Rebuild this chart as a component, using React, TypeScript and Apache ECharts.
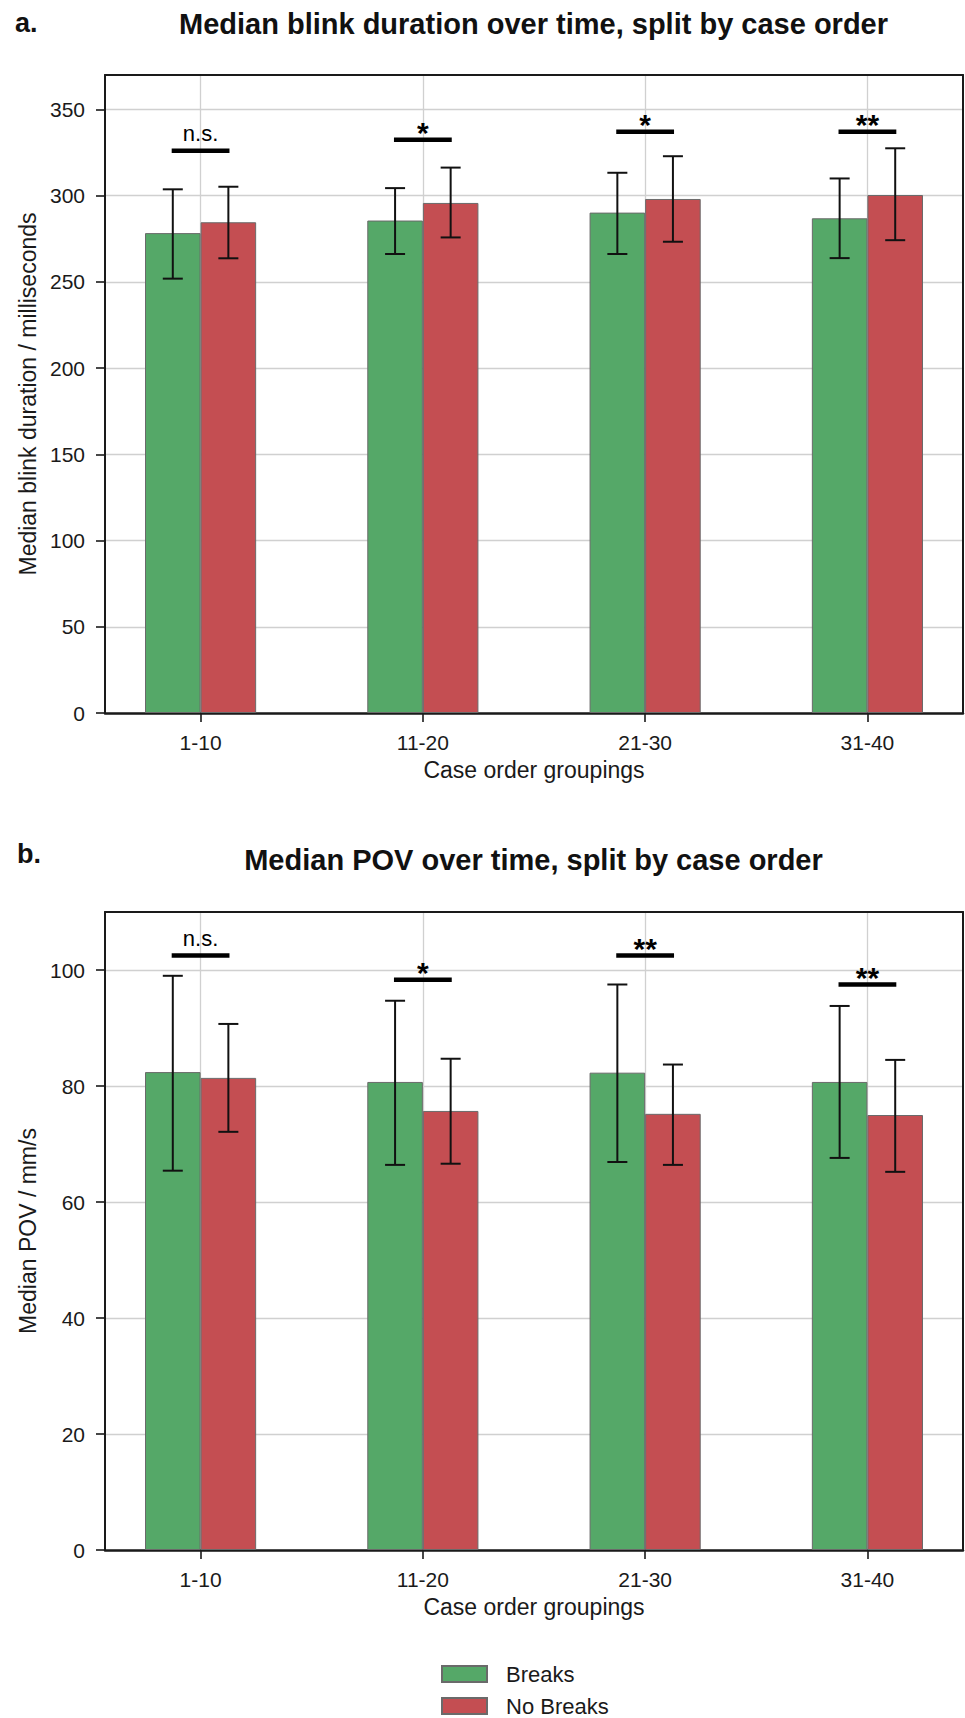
import React, { useEffect, useRef } from 'react';
import * as echarts from 'echarts';

// ---------- data ----------
const categories = ['1-10', '11-20', '21-30', '31-40'];
const seriesNames = ['Breaks', 'No Breaks'];

// Panel a: median blink duration (ms)
const blinkBreaks = [278.3, 285.6, 290.2, 286.9];
const blinkNoBreaks = [284.6, 295.8, 298.1, 300.4];
const blinkBreaksLow = [251.9, 266.2, 266.2, 263.8];
const blinkBreaksHigh = [303.7, 304.4, 313.3, 310.0];
const blinkNoBreaksLow = [263.7, 275.8, 273.3, 274.2];
const blinkNoBreaksHigh = [305.2, 316.3, 322.9, 327.5];
const blinkSigY = [326, 332.5, 337.1, 337.1];
const blinkSigLabels = ['n.s.', '*', '*', '**'];
const blinkTicks = [0, 50, 100, 150, 200, 250, 300, 350];
const blinkMax = 370;

// Panel b: median POV (mm/s)
const povBreaks = [82.4, 80.7, 82.3, 80.7];
const povNoBreaks = [81.4, 75.7, 75.2, 75.0];
const povBreaksLow = [65.4, 66.4, 66.9, 67.6];
const povBreaksHigh = [99.0, 94.7, 97.5, 93.8];
const povNoBreaksLow = [72.1, 66.6, 66.4, 65.2];
const povNoBreaksHigh = [90.7, 84.7, 83.7, 84.5];
const povSigY = [102.5, 98.3, 102.5, 97.5];
const povSigLabels = ['n.s.', '*', '**', '**'];
const povTicks = [0, 20, 40, 60, 80, 100];
const povMax = 110;

// ---------- styles ----------
const FONT = '"Liberation Sans", Arial, Helvetica, sans-serif';
const GREEN = '#55a868';
const RED = '#c44e52';
const EDGE = '#6a6a6a';
const INK = '#1a1a1a';
const GRIDC = '#d0d0d0';
const X_MIN = -0.43;
const X_MAX = 3.43;
const BAR_OFF = 0.125;
const SIG_HALF = 0.13;

function axesFor(gridIndex: number, yMax: number, yTicks: number[], yName: string) {
  const xAxes = [
    {
      gridIndex,
      type: 'value',
      min: X_MIN,
      max: X_MAX,
      position: 'bottom',
      name: 'Case order groupings',
      nameLocation: 'middle',
      nameGap: 45,
      nameTextStyle: { fontSize: 23, color: INK, fontFamily: FONT },
      axisLine: { show: true, onZero: false, lineStyle: { color: INK, width: 2.5 } },
      axisTick: {
        show: true,
        customValues: categories.map((_, i) => i),
        length: 9,
        lineStyle: { color: INK, width: 1.6 },
      },
      axisLabel: {
        customValues: categories.map((_, i) => i),
        formatter: (v: number) => categories[Math.round(v)] ?? '',
        fontSize: 21,
        color: INK,
        margin: 19,
        fontFamily: FONT,
      },
      splitLine: { show: true, lineStyle: { color: GRIDC, width: 1.3 } },
    },
    {
      gridIndex,
      type: 'value',
      min: X_MIN,
      max: X_MAX,
      position: 'top',
      axisLine: { show: true, onZero: false, lineStyle: { color: INK, width: 2 } },
      axisTick: { show: false },
      axisLabel: { show: false },
      splitLine: { show: false },
    },
  ];
  const yAxes = [
    {
      gridIndex,
      type: 'value',
      min: 0,
      max: yMax,
      position: 'left',
      name: yName,
      nameLocation: 'middle',
      nameGap: 64,
      nameTextStyle: { fontSize: 23, color: INK, fontFamily: FONT },
      axisLine: { show: true, onZero: false, lineStyle: { color: INK, width: 2 } },
      axisTick: { show: true, customValues: yTicks, length: 9, lineStyle: { color: INK, width: 1.6 } },
      axisLabel: { customValues: yTicks, fontSize: 21, color: INK, margin: 20, fontFamily: FONT },
      splitLine: { show: true, lineStyle: { color: GRIDC, width: 1.3 } },
    },
    {
      gridIndex,
      type: 'value',
      min: 0,
      max: yMax,
      position: 'right',
      axisLine: { show: true, onZero: false, lineStyle: { color: INK, width: 2 } },
      axisTick: { show: false },
      axisLabel: { show: false },
      splitLine: { show: false },
    },
  ];
  return { xAxes, yAxes };
}

function seriesFor(
  axisIdx: number,
  breaks: number[],
  noBreaks: number[],
  bLow: number[],
  bHigh: number[],
  nLow: number[],
  nHigh: number[],
  sigY: number[],
  sigLabels: string[]
) {
  const common = { xAxisIndex: axisIdx, yAxisIndex: axisIdx };
  const errData: number[][] = [];
  categories.forEach((_, i) => {
    errData.push([i, -BAR_OFF, bLow[i], bHigh[i]]);
    errData.push([i, BAR_OFF, nLow[i], nHigh[i]]);
  });
  return [
    {
      ...common,
      type: 'bar',
      name: seriesNames[0],
      data: breaks.map((v, i) => [i, v]),
      barWidth: '25%',
      barGap: '0%',
      itemStyle: { color: GREEN, borderColor: EDGE, borderWidth: 1 },
      z: 2,
    },
    {
      ...common,
      type: 'bar',
      name: seriesNames[1],
      data: noBreaks.map((v, i) => [i, v]),
      barWidth: '25%',
      barGap: '0%',
      itemStyle: { color: RED, borderColor: EDGE, borderWidth: 1 },
      z: 2,
    },
    {
      ...common,
      type: 'custom',
      name: 'errors',
      z: 5,
      silent: true,
      data: errData,
      encode: { x: [0], y: [2, 3] },
      renderItem: (_p: any, api: any) => {
        const x = api.value(0) + api.value(1);
        const lo = api.coord([x, api.value(2)]);
        const hi = api.coord([x, api.value(3)]);
        const cap = 10;
        const style = { stroke: '#111', lineWidth: 2 };
        return {
          type: 'group',
          children: [
            { type: 'line', shape: { x1: lo[0], y1: lo[1], x2: hi[0], y2: hi[1] }, style },
            { type: 'line', shape: { x1: lo[0] - cap, y1: lo[1], x2: lo[0] + cap, y2: lo[1] }, style },
            { type: 'line', shape: { x1: hi[0] - cap, y1: hi[1], x2: hi[0] + cap, y2: hi[1] }, style },
          ],
        };
      },
    },
    {
      ...common,
      type: 'custom',
      name: 'significance',
      z: 6,
      silent: true,
      data: sigY.map((y, i) => [i, y]),
      encode: { x: [0], y: [1] },
      renderItem: (p: any, api: any) => {
        const i = api.value(0);
        const y = api.value(1);
        const a = api.coord([i - SIG_HALF, y]);
        const b = api.coord([i + SIG_HALF, y]);
        const label = sigLabels[p.dataIndex];
        const ns = label === 'n.s.';
        return {
          type: 'group',
          children: [
            {
              type: 'line',
              shape: { x1: a[0], y1: a[1], x2: b[0], y2: b[1] },
              style: { stroke: '#000', lineWidth: 4.5 },
            },
            {
              type: 'text',
              x: (a[0] + b[0]) / 2,
              y: a[1] - (ns ? 17 : 7),
              style: {
                text: label,
                fill: '#000',
                font: ns ? `normal 22px ${FONT}` : `bold 30px ${FONT}`,
                textAlign: 'center',
                textVerticalAlign: 'middle',
              },
            },
          ],
        };
      },
    },
  ];
}

export default function App() {
  const ref = useRef<HTMLDivElement>(null);
  useEffect(() => {
    document.body.style.margin = '0';
    if (!ref.current) return;
    const chart = echarts.init(ref.current, undefined, { renderer: 'svg' });
    const a = axesFor(0, blinkMax, blinkTicks, 'Median blink duration / milliseconds');
    const b = axesFor(1, povMax, povTicks, 'Median POV / mm/s');
    const option: any = {
      animation: false,
      backgroundColor: '#ffffff',
      textStyle: { fontFamily: FONT },
      grid: [
        { left: 105, right: 2, top: 75, height: 638 },
        { left: 105, right: 2, top: 912, height: 638 },
      ],
      xAxis: [...a.xAxes, ...b.xAxes],
      yAxis: [...a.yAxes, ...b.yAxes],
      legend: {
        data: seriesNames,
        orient: 'vertical',
        left: 441,
        top: 1663,
        height: 60,
        padding: 0,
        itemWidth: 45,
        itemHeight: 16,
        itemGap: 10,
        icon: 'rect',
        selectedMode: false,
        textStyle: { fontSize: 22, color: INK, fontFamily: FONT, padding: [0, 0, 0, 14] },
      },
      graphic: [
        {
          type: 'text',
          x: 15,
          y: 23,
          style: { text: 'a.', font: `bold 27px ${FONT}`, fill: '#111', textAlign: 'left', textVerticalAlign: 'middle' },
        },
        {
          type: 'text',
          x: 533.5,
          y: 24,
          style: {
            text: 'Median blink duration over time, split by case order',
            font: `bold 29px ${FONT}`,
            fill: '#111',
            textAlign: 'center',
            textVerticalAlign: 'middle',
          },
        },
        {
          type: 'text',
          x: 17,
          y: 854,
          style: { text: 'b.', font: `bold 27px ${FONT}`, fill: '#111', textAlign: 'left', textVerticalAlign: 'middle' },
        },
        {
          type: 'text',
          x: 533.5,
          y: 860,
          style: {
            text: 'Median POV over time, split by case order',
            font: `bold 29px ${FONT}`,
            fill: '#111',
            textAlign: 'center',
            textVerticalAlign: 'middle',
          },
        },
      ],
      series: [
        ...seriesFor(0, blinkBreaks, blinkNoBreaks, blinkBreaksLow, blinkBreaksHigh, blinkNoBreaksLow, blinkNoBreaksHigh, blinkSigY, blinkSigLabels),
        ...seriesFor(2, povBreaks, povNoBreaks, povBreaksLow, povBreaksHigh, povNoBreaksLow, povNoBreaksHigh, povSigY, povSigLabels),
      ],
    };
    chart.setOption(option);
    return () => chart.dispose();
  }, []);
  return <div ref={ref} style={{ width: 965, height: 1718 }} />;
}
